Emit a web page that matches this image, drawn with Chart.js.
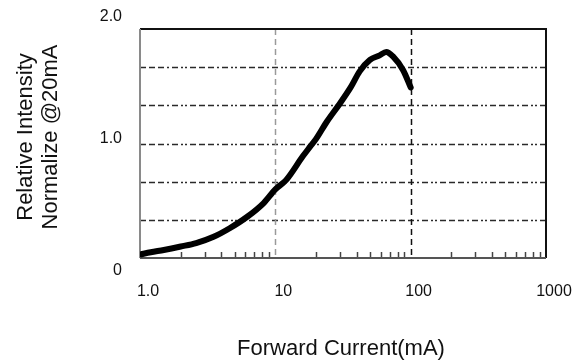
<!DOCTYPE html>
<html>
<head>
<meta charset="utf-8">
<script src="https://cdn.jsdelivr.net/npm/chart.js@4.4.0/dist/chart.umd.min.js"></script>
<style>
  html, body { margin: 0; padding: 0; background: #ffffff; }
  canvas { display: block; }
</style>
</head>
<body>
<canvas id="chart" width="580" height="362"></canvas>
<script>
// Forward current (mA) and relative luminous intensity, normalised at 20 mA
const currentMA = [1.0, 1.2, 1.5, 2.0, 2.6, 3.5, 4.6, 6.2, 8.2, 10, 12, 16, 18, 20, 24, 30, 36, 42, 50, 59, 66, 74, 88, 100];
const relIntensity = [0.03, 0.05, 0.07, 0.10, 0.13, 0.185, 0.26, 0.36, 0.48, 0.60, 0.68, 0.89, 0.97, 1.04, 1.19, 1.35, 1.49, 1.63, 1.73, 1.77, 1.80, 1.76, 1.64, 1.49];

// Axis ticks
const xTickValues = [1, 10, 100, 1000];
const xTickLabels = ['1.0', '10', '100', '1000'];
const yTickValues = [0, 1, 2];
const yTickLabels = ['0', '1.0', '2.0'];
const yGridStep = 1 / 3;

const xTitle = 'Forward Current(mA)';
const yTitleLines = ['Relative Intensity', 'Normalize @20mA'];

const points = currentMA.map((c, i) => ({ x: c, y: relIntensity[i] }));

const FONT = '"Liberation Sans", Arial, Helvetica, sans-serif';

// Frame, dashed grid, minor ticks and all axis text
const framePlugin = {
  id: 'frame',
  beforeDatasetsDraw(chart) {
    const { ctx, chartArea: a, scales: { x, y } } = chart;
    ctx.save();

    // horizontal dash-dot grid lines
    ctx.strokeStyle = '#2a2a2a';
    ctx.lineWidth = 1.5;
    ctx.setLineDash([6, 3, 6, 3, 6, 3, 2, 3, 6, 3, 2, 2, 2, 3]);
    for (let v = yGridStep; v < y.max - 1e-6; v += yGridStep) {
      const py = Math.round(y.getPixelForValue(v)) + 0.5;
      ctx.beginPath();
      ctx.moveTo(a.left, py);
      ctx.lineTo(a.right, py);
      ctx.stroke();
    }

    // vertical decade lines
    ctx.setLineDash([6, 4]);
    [[10, '#9a9a9a'], [100, '#111111']].forEach(([v, col]) => {
      const px = Math.round(x.getPixelForValue(v)) + 0.5;
      ctx.strokeStyle = col;
      ctx.beginPath();
      ctx.moveTo(px, a.top);
      ctx.lineTo(px, a.bottom);
      ctx.stroke();
    });
    ctx.setLineDash([]);

    // minor ticks along the bottom, pointing inward
    ctx.strokeStyle = '#444444';
    ctx.lineWidth = 1.5;
    for (let dec = 1; dec < 1000; dec *= 10) {
      for (let m = 2; m <= 9; m++) {
        const px = Math.round(x.getPixelForValue(dec * m)) + 0.5;
        ctx.beginPath();
        ctx.moveTo(px, a.bottom);
        ctx.lineTo(px, a.bottom - 6);
        ctx.stroke();
      }
    }

    // plot frame
    ctx.lineWidth = 2;
    ctx.strokeStyle = '#111111';
    ctx.beginPath();
    ctx.moveTo(a.left, a.top);
    ctx.lineTo(a.right, a.top);
    ctx.lineTo(a.right, a.bottom);
    ctx.stroke();
    ctx.strokeStyle = '#555555';
    ctx.beginPath();
    ctx.moveTo(a.left, a.bottom);
    ctx.lineTo(a.right, a.bottom);
    ctx.stroke();
    ctx.strokeStyle = '#8a8a8a';
    ctx.beginPath();
    ctx.moveTo(a.left, a.top);
    ctx.lineTo(a.left, a.bottom);
    ctx.stroke();
    ctx.restore();
  },
  afterDraw(chart) {
    const { ctx, chartArea: a, scales: { x, y } } = chart;
    ctx.save();
    ctx.fillStyle = '#111111';

    // x tick labels
    ctx.font = '16px ' + FONT;
    ctx.textAlign = 'center';
    ctx.textBaseline = 'middle';
    xTickValues.forEach((v, i) => {
      ctx.fillText(xTickLabels[i], x.getPixelForValue(v) + 8, a.bottom + 34);
    });

    // y tick labels
    const yNudge = { 0: 13, 1: -5, 2: -12 };
    ctx.textAlign = 'right';
    yTickValues.forEach((v, i) => {
      ctx.fillText(yTickLabels[i], a.left - 18, y.getPixelForValue(v) + yNudge[v]);
    });

    // axis titles
    ctx.font = '22px ' + FONT;
    ctx.textAlign = 'center';
    ctx.textBaseline = 'alphabetic';
    ctx.fillText(xTitle, 341, 355);

    ctx.translate(0, 137);
    ctx.rotate(-Math.PI / 2);
    ctx.fillText(yTitleLines[0], 0, 32);
    ctx.fillText(yTitleLines[1], 0, 57);
    ctx.restore();
  }
};

new Chart(document.getElementById('chart'), {
  type: 'line',
  data: {
    datasets: [{
      data: points,
      borderColor: '#000000',
      borderWidth: 6,
      pointRadius: 0,
      fill: false,
      cubicInterpolationMode: 'monotone',
      borderCapStyle: 'round',
      borderJoinStyle: 'round'
    }]
  },
  options: {
    responsive: false,
    animation: false,
    devicePixelRatio: 1,
    layout: { padding: { left: 140, top: 29, right: 34, bottom: 104 } },
    plugins: { legend: { display: false }, tooltip: { enabled: false } },
    scales: {
      x: { type: 'logarithmic', min: 1, max: 1000, display: false },
      y: { type: 'linear', min: 0, max: 2, display: false }
    }
  },
  plugins: [framePlugin]
});
</script>
</body>
</html>
